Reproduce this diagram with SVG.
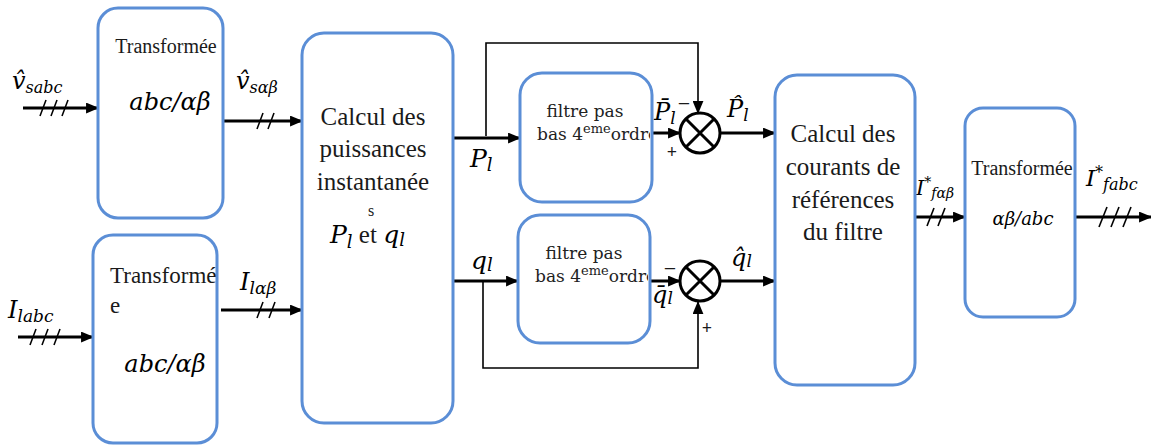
<svg xmlns="http://www.w3.org/2000/svg" width="1151" height="446" viewBox="0 0 1151 446">
<defs>
<marker id="ah" viewBox="0 0 12 10" refX="11" refY="5" markerWidth="13" markerHeight="11" markerUnits="userSpaceOnUse" orient="auto"><path d="M0,0 L12,5 L0,10 z" fill="#000"/></marker>
<clipPath id="c1"><rect x="520" y="73" width="130" height="129"/></clipPath>
<clipPath id="c2"><rect x="518" y="215" width="130" height="128"/></clipPath>
</defs>
<style>
.box{fill:#fff;stroke:#5b8ed6;stroke-width:3}
.main{stroke:#000;stroke-width:3;fill:none}
.thin{stroke:#000;stroke-width:1.6;fill:none}
.tick{stroke:#000;stroke-width:1.6}
.sum{fill:#fff;stroke:#000;stroke-width:3}
.t{font-family:"Liberation Serif","Times New Roman",serif;fill:#1a1a1a}
.m{font-family:"DejaVu Serif",serif;font-style:italic;fill:#000}
.f{font-family:"DejaVu Serif",serif;fill:#222}
</style>
<rect width="1151" height="446" fill="#fff"/>

<g id="connectors">
  <line class="main" x1="23" y1="108" x2="98" y2="108" marker-end="url(#ah)"/>
  <line class="tick" x1="40" y1="116" x2="46" y2="100"/>
  <line class="tick" x1="51" y1="116" x2="57" y2="100"/>
  <line class="tick" x1="62" y1="116" x2="68" y2="100"/>

  <line class="main" x1="223" y1="121" x2="302" y2="121" marker-end="url(#ah)"/>
  <line class="tick" x1="257" y1="129" x2="263" y2="113"/>
  <line class="tick" x1="268" y1="129" x2="274" y2="113"/>

  <line class="main" x1="18" y1="337" x2="93" y2="337" marker-end="url(#ah)"/>
  <line class="tick" x1="30" y1="345" x2="36" y2="329"/>
  <line class="tick" x1="42" y1="345" x2="48" y2="329"/>
  <line class="tick" x1="54" y1="345" x2="60" y2="329"/>

  <line class="main" x1="221" y1="310" x2="302" y2="310" marker-end="url(#ah)"/>
  <line class="tick" x1="257" y1="318" x2="263" y2="302"/>
  <line class="tick" x1="269" y1="318" x2="275" y2="302"/>

  <line class="main" x1="453" y1="138" x2="520" y2="138" marker-end="url(#ah)"/>
  <path class="thin" d="M486,136 V43 H698 V113" marker-end="url(#ah)"/>
  <line class="main" x1="652" y1="133" x2="680" y2="133" marker-end="url(#ah)"/>
  <line class="main" x1="720" y1="133" x2="775" y2="133" marker-end="url(#ah)"/>

  <line class="main" x1="453" y1="281" x2="518" y2="281" marker-end="url(#ah)"/>
  <path class="thin" d="M483,281 V368 H698 V302" marker-end="url(#ah)"/>
  <line class="main" x1="650" y1="281" x2="680" y2="281" marker-end="url(#ah)"/>
  <line class="main" x1="720" y1="281" x2="775" y2="281" marker-end="url(#ah)"/>

  <line class="main" x1="915" y1="217" x2="965" y2="217" marker-end="url(#ah)"/>
  <line class="tick" x1="927" y1="226" x2="934" y2="208"/>
  <line class="tick" x1="938" y1="226" x2="945" y2="208"/>

  <line class="main" x1="1075" y1="217" x2="1151" y2="217" marker-end="url(#ah)"/>
  <line class="tick" x1="1099" y1="227" x2="1107" y2="207"/>
  <line class="tick" x1="1111" y1="227" x2="1119" y2="207"/>
  <line class="tick" x1="1123" y1="227" x2="1131" y2="207"/>

  <text class="m" x="12" y="89" font-size="24">v̂<tspan font-size="16" dy="4">sabc</tspan></text>
  <text class="m" x="236" y="89" font-size="24">v̂<tspan font-size="16" dy="4">sαβ</tspan></text>
  <text class="m" x="8" y="318" font-size="24">I<tspan font-size="17" dy="4">labc</tspan></text>
  <text class="m" x="240" y="290" font-size="24">I<tspan font-size="17" dy="4">lαβ</tspan></text>
  <text class="m" x="470" y="167" font-size="25">P<tspan font-size="18" dy="4">l</tspan></text>
  <text class="m" x="471" y="269" font-size="25">q<tspan font-size="18" dy="2">l</tspan></text>
  <text class="m" x="654" y="120" font-size="24">P̄<tspan font-size="17" dy="4">l</tspan></text>
  <text class="t" x="684" y="111" font-size="22" text-anchor="middle">−</text>
  <text class="t" x="672" y="158" font-size="18" font-weight="bold" text-anchor="middle">+</text>
  <text class="m" x="727" y="117" font-size="24">P̂<tspan font-size="17" dy="4">l</tspan></text>
  <text class="m" x="652" y="303" font-size="24">q̄<tspan font-size="17" dy="1">l</tspan></text>
  <text class="t" x="670" y="276" font-size="22" text-anchor="middle">−</text>
  <text class="t" x="707" y="334" font-size="18" font-weight="bold" text-anchor="middle">+</text>
  <text class="m" x="731" y="266" font-size="24">q̂<tspan font-size="17" dy="1">l</tspan></text>
  <text class="m" x="916" y="195" font-size="21">I<tspan font-size="14" dy="-8">*</tspan><tspan font-size="14" dy="11">fαβ</tspan></text>
  <text class="m" x="1086" y="186" font-size="23">I<tspan font-size="16" dy="-8">*</tspan><tspan font-size="16" dy="12">fabc</tspan></text>
</g>

<g id="transf1">
  <rect class="box" x="98" y="8" width="125" height="210" rx="20"/>
  <text class="t" x="166" y="53" font-size="20" text-anchor="middle">Transformée</text>
  <text class="m" x="170" y="110" font-size="24" text-anchor="middle">abc/αβ</text>
</g>

<g id="transf2">
  <rect class="box" x="93" y="235" width="124" height="208" rx="20"/>
  <text class="t" x="110" y="283" font-size="23">Transformé</text>
  <text class="t" x="110" y="313" font-size="23">e</text>
  <text class="m" x="165" y="372" font-size="24" text-anchor="middle">abc/αβ</text>
</g>

<g id="calcul-puissances">
  <rect class="box" x="302" y="33" width="151" height="390" rx="22"/>
  <text class="t" x="373" y="125" font-size="25" text-anchor="middle">Calcul des</text>
  <text class="t" x="373" y="157" font-size="25" text-anchor="middle">puissances</text>
  <text class="t" x="373" y="190" font-size="25" text-anchor="middle">instantanée</text>
  <text class="t" x="371" y="216" font-size="16" text-anchor="middle">s</text>
  <text x="330" y="243"><tspan class="m" font-size="25">P</tspan><tspan class="m" font-size="18" dy="5">l</tspan><tspan class="t" font-size="25" dy="-5"> et </tspan><tspan class="m" font-size="25">q</tspan><tspan class="m" font-size="18" dy="3">l</tspan></text>
</g>

<g id="filtre1">
  <rect class="box" x="520" y="73" width="132" height="129" rx="22"/>
  <text class="f" x="585" y="117" font-size="17" text-anchor="middle">filtre pas</text>
  <text class="f" x="537" y="140" font-size="17" clip-path="url(#c1)">bas 4<tspan font-size="13" dy="-7">eme</tspan><tspan dy="7">ordre</tspan></text>
</g>

<g id="filtre2">
  <rect class="box" x="518" y="215" width="132" height="128" rx="22"/>
  <text class="f" x="584" y="259" font-size="17" text-anchor="middle">filtre pas</text>
  <text class="f" x="535" y="282" font-size="17" clip-path="url(#c2)">bas 4<tspan font-size="13" dy="-7">eme</tspan><tspan dy="7">ordre</tspan></text>
</g>

<g id="sommateur1">
  <circle class="sum" cx="700" cy="133" r="20"/>
  <path class="main" d="M686,119 L714,147 M714,119 L686,147"/>
</g>

<g id="sommateur2">
  <circle class="sum" cx="700" cy="281" r="20"/>
  <path class="main" d="M686,267 L714,295 M714,267 L686,295"/>
</g>

<g id="calcul-courants">
  <rect class="box" x="775" y="75" width="140" height="310" rx="22"/>
  <text class="t" x="843" y="142" font-size="25" text-anchor="middle">Calcul des</text>
  <text class="t" x="843" y="175" font-size="25" text-anchor="middle">courants de</text>
  <text class="t" x="843" y="208" font-size="25" text-anchor="middle">références</text>
  <text class="t" x="843" y="240" font-size="25" text-anchor="middle">du filtre</text>
</g>

<g id="transf3">
  <rect class="box" x="965" y="108" width="110" height="209" rx="18"/>
  <text class="t" x="1022" y="175" font-size="20" text-anchor="middle">Transformée</text>
  <text class="m" x="1023" y="225" font-size="18" text-anchor="middle">αβ/abc</text>
</g>
</svg>
